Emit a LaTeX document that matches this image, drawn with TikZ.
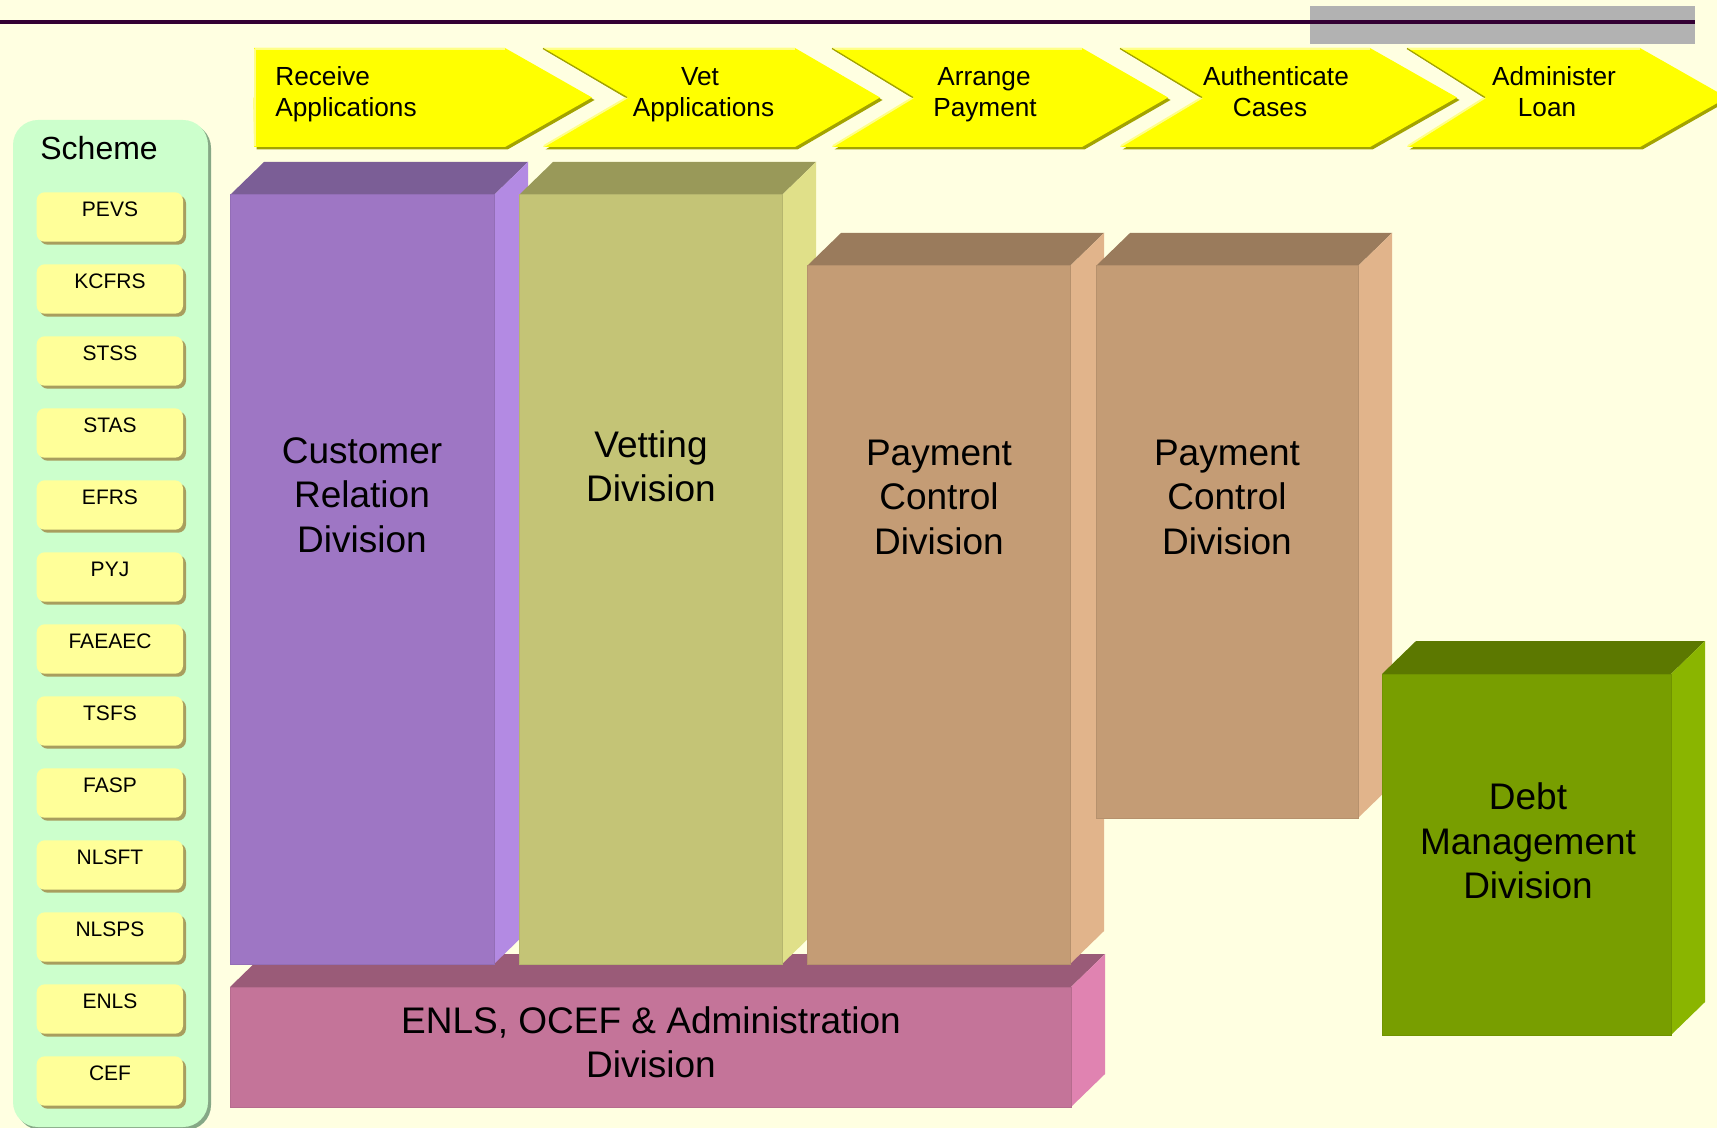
\documentclass[tikz,border=0pt]{standalone}
\usepackage{fontspec}
\setmainfont{Liberation Sans}
\definecolor{bg}{HTML}{FFFFE1}
\definecolor{topline}{HTML}{330033}
\definecolor{graybar}{HTML}{B2B2B2}
\definecolor{chevyellow}{HTML}{FFFF00}
\definecolor{chevshadow}{HTML}{A3A300}
\definecolor{chevlight}{HTML}{FFFF88}
\definecolor{panelfill}{HTML}{CCFFCC}
\definecolor{panelshadow}{HTML}{86A886}
\definecolor{boxfill}{HTML}{FFFF99}
\definecolor{boxshadow}{HTML}{A89E5E}
\definecolor{crdF}{HTML}{9E76C4}
\definecolor{crdT}{HTML}{7B5E96}
\definecolor{crdS}{HTML}{B38AE3}
\definecolor{vetF}{HTML}{C4C476}
\definecolor{vetT}{HTML}{999959}
\definecolor{vetS}{HTML}{E0E089}
\definecolor{pcdF}{HTML}{C49C75}
\definecolor{pcdT}{HTML}{9A7B5C}
\definecolor{pcdS}{HTML}{E1B48B}
\definecolor{dmdF}{HTML}{789E00}
\definecolor{dmdT}{HTML}{5C7800}
\definecolor{dmdS}{HTML}{8AB500}
\definecolor{enlF}{HTML}{C47499}
\definecolor{enlT}{HTML}{9A5B78}
\definecolor{enlS}{HTML}{E083B1}
\tikzset{
  chevtxt/.style={inner sep=0pt, font=\fontsize{13.1}{15}\selectfont},
  blocktxt/.style={inner sep=0pt, anchor=base, font=\fontsize{18.5}{22}\selectfont},
  schemetxt/.style={inner sep=0pt, anchor=base west, font=\fontsize{16}{19}\selectfont},
  smalltxt/.style={inner sep=0pt, anchor=base, font=\fontsize{10.5}{12}\selectfont},
}
% x1 y1 x2 y2 front top side
\newcommand\blockbox[7]{%
  \fill[#6] (#1,#2) -- (#1+34,#2-33) -- (#3+34,#2-33) -- (#3,#2) -- cycle;
  \fill[#7] (#3,#2) -- (#3+34,#2-33) -- (#3+34,#4-33) -- (#3,#4) -- cycle;
  \fill[#5, draw=#5!93!black, line width=0.5pt] (#1,#2) rectangle (#3,#4);
}
\begin{document}
\begin{tikzpicture}[x=0.5pt,y=-0.5pt]
\useasboundingbox (0,0) rectangle (1717,1128);
\clip (0,0) rectangle (1717,1128);
\fill[bg] (0,0) rectangle (1717,1128);

% gray bar and top rule
\fill[graybar] (1310,6) rectangle (1695,44);
\draw[topline, line width=1.8pt] (0,22) -- (1695,22);

% chevrons
\foreach \L/\R/\T/\N in {254/505/592/254, 543/795/880/627, 832/1082/1168/913, 1120/1370/1457/1202, 1407/1640/1727/1485} {
  \fill[chevshadow, shift={(2.5,2.5)}] (\L,48) -- (\R,48) -- (\T,97.5) -- (\R,147) -- (\L,147) -- (\N,97.5) -- cycle;
  \fill[chevyellow] (\L,48) -- (\R,48) -- (\T,97.5) -- (\R,147) -- (\L,147) -- (\N,97.5) -- cycle;
  \draw[chevlight, line width=1pt] (\L+1,49) -- (\R,49);
  \draw[chevlight, line width=1pt] (\N,97.5) -- (\L+1,146);
}
\foreach \L/\N in {543/627, 832/913, 1120/1202, 1407/1485} {
  \draw[chevshadow, line width=0.6pt] (\L,48.5) -- (\N,97.5);
}
\draw[chevlight, line width=1pt] (255,49) -- (255,146);
\node[chevtxt, anchor=base west] (c1a) at (275,86) {Receive};
\node[chevtxt, anchor=base west] (c1b) at (275,117) {Applications};
\node[chevtxt, anchor=base] (c2a) at (700,86) {Vet};
\node[chevtxt, anchor=base] (c2b) at (703.5,117) {Applications};
\node[chevtxt, anchor=base] (c3a) at (984,86) {Arrange};
\node[chevtxt, anchor=base] (c3b) at (985,117) {Payment};
\node[chevtxt, anchor=base] (c4a) at (1276,86) {Authenticate};
\node[chevtxt, anchor=base] (c4b) at (1270,117) {Cases};
\node[chevtxt, anchor=base] (c5a) at (1554,86) {Administer};
\node[chevtxt, anchor=base] (c5b) at (1547,117) {Loan};

% scheme panel
\fill[panelshadow, rounded corners=12.5pt] (16,123) rectangle (211,1130);
\fill[panelfill, rounded corners=12.5pt] (13,120) rectangle (208,1127);
\node[schemetxt] (scheme) at (40,160) {Scheme};
\foreach \t [count=\i from 0] in {PEVS,KCFRS,STSS,STAS,EFRS,PYJ,FAEAEC,TSFS,FASP,NLSFT,NLSPS,ENLS,CEF} {
  \pgfmathsetmacro\yy{192.3+72*\i}
  \fill[boxshadow, rounded corners=4pt] (39.7,\yy+3) rectangle (186,\yy+52.4);
  \fill[boxfill, rounded corners=4pt] (36.7,\yy) rectangle (183,\yy+49.4);
  \node[smalltxt] (s\i) at (110,\yy+24.4) {\t};
}

% blocks
\blockbox{230}{987}{1071}{1107}{enlF}{enlT}{enlS}
\blockbox{230}{195}{494}{964}{crdF}{crdT}{crdS}
\blockbox{519}{195}{782}{964}{vetF}{vetT}{vetS}
\blockbox{807}{266}{1070}{964}{pcdF}{pcdT}{pcdS}
\blockbox{1096}{266}{1358}{818}{pcdF}{pcdT}{pcdS}
\blockbox{1382}{674}{1671}{1035}{dmdF}{dmdT}{dmdS}

% block texts
\node[blocktxt] (crd1) at (362,463) {Customer};
\node[blocktxt] (crd2) at (362,507.5) {Relation};
\node[blocktxt] (crd3) at (362,552) {Division};
\node[blocktxt] (vet1) at (651,457) {Vetting};
\node[blocktxt] (vet2) at (651,501) {Division};
\node[blocktxt] (pa1) at (939,465) {Payment};
\node[blocktxt] (pa2) at (939,509.5) {Control};
\node[blocktxt] (pa3) at (939,554) {Division};
\node[blocktxt] (pb1) at (1227,465) {Payment};
\node[blocktxt] (pb2) at (1227,509.5) {Control};
\node[blocktxt] (pb3) at (1227,554) {Division};
\node[blocktxt] (dm1) at (1528,809) {Debt};
\node[blocktxt] (dm2) at (1528,854) {Management};
\node[blocktxt] (dm3) at (1528,898) {Division};
\node[blocktxt] (en1) at (651,1033) {ENLS, OCEF \& Administration};
\node[blocktxt] (en2) at (651,1077) {Division};
\end{tikzpicture}
\end{document}
